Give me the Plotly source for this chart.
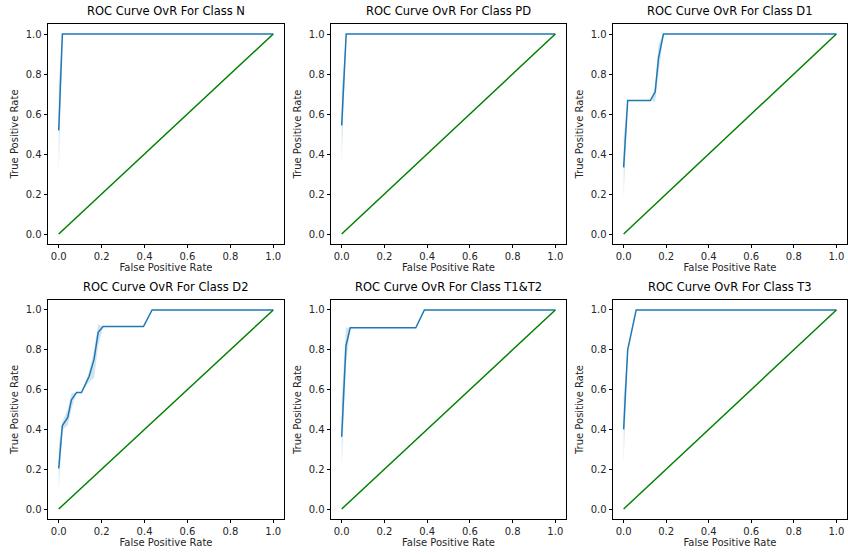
import plotly.graph_objects as go

classes = ["N", "PD", "D1", "D2", "T1&T2", "T3"]

fpr = {
    "N": [0.0, 0.017, 1.0],
    "PD": [0.0, 0.021, 1.0],
    "D1": [0.0, 0.019, 0.125, 0.148, 0.164, 0.187, 1.0],
    "D2": [0.0, 0.017, 0.042, 0.059, 0.083, 0.106, 0.142, 0.165, 0.184, 0.207, 0.395, 0.435, 1.0],
    "T1&T2": [0.0, 0.020, 0.040, 0.347, 0.387, 1.0],
    "T3": [0.0, 0.019, 0.059, 1.0],
}
tpr = {
    "N": [0.518, 1.0, 1.0],
    "PD": [0.543, 1.0, 1.0],
    "D1": [0.333, 0.667, 0.667, 0.71, 0.88, 1.0, 1.0],
    "D2": [0.204, 0.419, 0.46, 0.548, 0.585, 0.585, 0.667, 0.754, 0.888, 0.917, 0.917, 1.0, 1.0],
    "T1&T2": [0.363, 0.82, 0.91, 0.91, 1.0, 1.0],
    "T3": [0.40, 0.80, 1.0, 1.0],
}
tpr_lo = {
    "N": [0.30, 1.0, 1.0],
    "PD": [0.36, 1.0, 1.0],
    "D1": [0.18, 0.667, 0.667, 0.66, 0.80, 1.0, 1.0],
    "D2": [0.10, 0.40, 0.42, 0.50, 0.585, 0.585, 0.64, 0.66, 0.82, 0.917, 0.917, 1.0, 1.0],
    "T1&T2": [0.21, 0.72, 0.91, 0.91, 1.0, 1.0],
    "T3": [0.23, 0.80, 1.0, 1.0],
}
tpr_hi = {
    "N": [0.75, 1.0, 1.0],
    "PD": [0.72, 1.0, 1.0],
    "D1": [0.48, 0.667, 0.667, 0.73, 0.95, 1.0, 1.0],
    "D2": [0.32, 0.44, 0.50, 0.58, 0.585, 0.585, 0.69, 0.80, 0.93, 0.917, 0.917, 1.0, 1.0],
    "T1&T2": [0.55, 0.91, 0.91, 0.91, 1.0, 1.0],
    "T3": [0.56, 0.80, 1.0, 1.0],
}
diag_x = [0.0, 1.0]
diag_y = [0.0, 1.0]
ticks = [0.0, 0.2, 0.4, 0.6, 0.8, 1.0]
tick_text = ["0.0", "0.2", "0.4", "0.6", "0.8", "1.0"]

W, H = 848, 554
col_px = [(48, 284), (331, 566), (613, 847)]
row_px = [(24, 244), (300, 519)]

fig = go.Figure()
font = "DejaVu Sans"
blue = "#1f77b4"

for i, c in enumerate(classes):
    r, k = divmod(i, 3)
    n = i + 1
    xa = "x" if n == 1 else f"x{n}"
    ya = "y" if n == 1 else f"y{n}"
    # band
    fig.add_trace(go.Scatter(x=fpr[c], y=tpr_lo[c], mode="lines", line=dict(width=0, color=blue),
                             xaxis=xa, yaxis=ya, showlegend=False, hoverinfo="skip"))
    fig.add_trace(go.Scatter(x=fpr[c], y=tpr_hi[c], mode="lines", line=dict(width=0, color=blue),
                             fill="tonexty", fillcolor="rgba(31,119,180,0.2)",
                             xaxis=xa, yaxis=ya, showlegend=False, hoverinfo="skip"))
    fig.add_trace(go.Scatter(x=fpr[c], y=tpr[c], mode="lines", line=dict(width=1.5, color=blue),
                             xaxis=xa, yaxis=ya, showlegend=False))
    fig.add_trace(go.Scatter(x=diag_x, y=diag_y, mode="lines", line=dict(width=1.5, color="green"),
                             xaxis=xa, yaxis=ya, showlegend=False))
    x0, x1 = col_px[k]
    y0, y1 = row_px[r]
    axcommon = dict(range=[-0.05, 1.05], tickvals=ticks, ticktext=tick_text, ticks="outside",
                    ticklen=3.5, tickwidth=0.8, tickcolor="black", showline=True, linecolor="black",
                    linewidth=0.8, mirror=True, showgrid=False, zeroline=False,
                    tickfont=dict(family=font, size=10, color="#262626"))
    fig.layout[("xaxis" if n == 1 else f"xaxis{n}")] = dict(
        domain=[x0 / W, x1 / W], anchor=ya,
        title=dict(text="False Positive Rate", font=dict(family=font, size=10, color="#262626"), standoff=2),
        **axcommon)
    fig.layout[("yaxis" if n == 1 else f"yaxis{n}")] = dict(
        domain=[1 - y1 / H, 1 - y0 / H], anchor=xa,
        title=dict(text="True Positive Rate", font=dict(family=font, size=10, color="#262626"), standoff=5),
        **axcommon)
    fig.add_annotation(text=f"ROC Curve OvR For Class {c}", x=(x0 + x1) / 2 / W, y=1 - (y0 - 4) / H,
                       xref="paper", yref="paper", xanchor="center", yanchor="bottom", showarrow=False,
                       font=dict(family=font, size=11.5, color="black"))

fig.update_layout(width=W, height=H, margin=dict(l=0, r=0, t=0, b=0),
                  plot_bgcolor="white", paper_bgcolor="white")
fig.write_html("out.html")
